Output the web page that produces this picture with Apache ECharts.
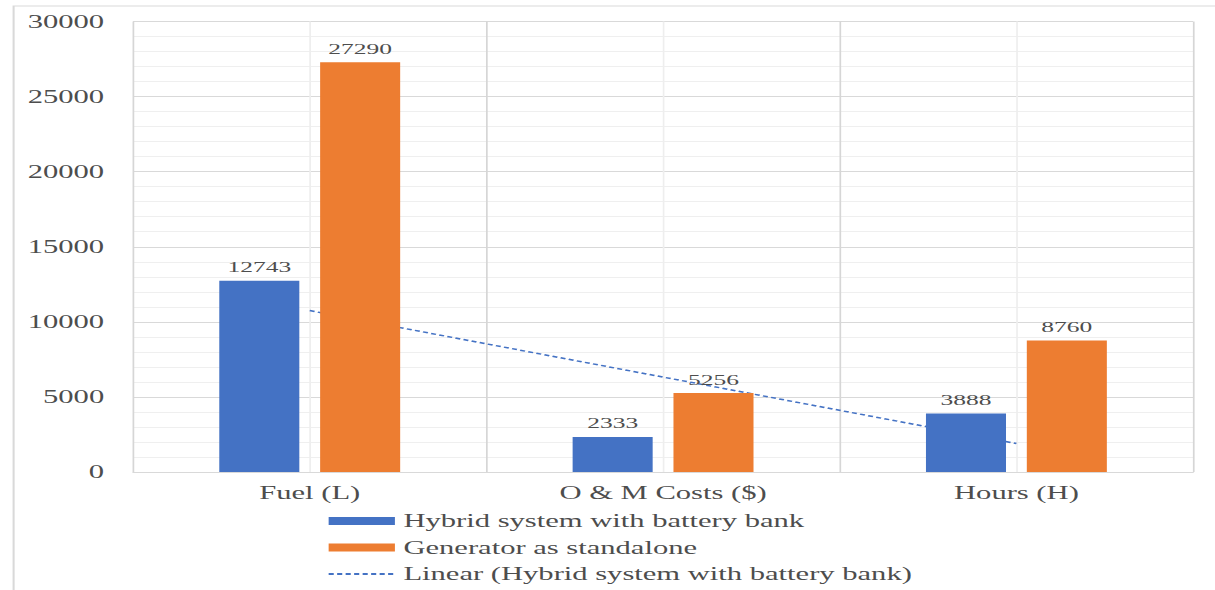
<!DOCTYPE html>
<html>
<head>
<meta charset="utf-8">
<title>Hybrid system vs standalone generator</title>
<script src="https://cdn.jsdelivr.net/npm/echarts@6/dist/echarts.min.js"></script>
<style>
  html, body { margin: 0; padding: 0; background: #ffffff; overflow: hidden; }
  /* The chart is laid out on a narrower canvas and widened horizontally,
     giving the broad serif lettering and wide columns of the figure. */
  #chart { width: 715px; height: 590px; transform-origin: 0 0; }
</style>
</head>
<body>
<div id="chart"></div>
<script>
// ---- data ----
const categories = ['Fuel (L)', 'O & M Costs ($)', 'Hours (H)'];
const hybridName = 'Hybrid system with battery bank';
const generatorName = 'Generator as standalone';
const trendName = 'Linear (Hybrid system with battery bank)';
const hybrid = [12743, 2333, 3888];
const generator = [27290, 5256, 8760];
const yMin = 0;
const yMax = 30000;
const yStep = 5000;

// Least-squares linear trendline over the category positions 1..n
function linearTrend(values) {
  const n = values.length;
  const xs = values.map((_, i) => i + 1);
  const mx = xs.reduce((a, b) => a + b, 0) / n;
  const my = values.reduce((a, b) => a + b, 0) / n;
  let num = 0, den = 0;
  for (let i = 0; i < n; i++) {
    num += (xs[i] - mx) * (values[i] - my);
    den += (xs[i] - mx) * (xs[i] - mx);
  }
  const slope = num / den;
  const icpt = my - slope * mx;
  return xs.map(x => +(icpt + slope * x).toFixed(1));
}
const hybridTrend = linearTrend(hybrid);

// ---- layout ----
const PAGE_W = 1215;
const BOX_W = 715;
const SX = PAGE_W / BOX_W;
const el = document.getElementById('chart');
el.style.transform = 'scaleX(' + SX + ')';

const FONT = "'Liberation Serif', 'Times New Roman', serif";
const TEXT = '#4d4d4d';
const BLUE = '#4472C4';
const ORANGE = '#ED7D31';

const chart = echarts.init(el, null, { renderer: 'svg', width: BOX_W, height: 590 });

chart.setOption({
  animation: false,
  backgroundColor: '#ffffff',
  textStyle: { fontFamily: FONT },
  graphic: [{
    type: 'rect',
    silent: true,
    z: -10,
    shape: { x: 8, y: 6, width: 900, height: 700 },
    style: { fill: 'none', stroke: '#d9d9d9', lineWidth: 1.2 }
  }],
  grid: { left: 78.3, right: 12.9, top: 21.5, bottom: 118, containLabel: false },
  legend: {
    orient: 'vertical',
    left: 192.4,
    top: 512,
    padding: 0,
    itemWidth: 39,
    itemHeight: 8,
    itemGap: 8.5,
    textStyle: { fontFamily: FONT, fontSize: 18, lineHeight: 18, color: TEXT },
    data: [
      { name: hybridName, icon: 'rect' },
      { name: generatorName, icon: 'rect' },
      { name: trendName, itemStyle: { opacity: 0 } }
    ]
  },
  xAxis: [{
    type: 'category',
    data: categories,
    boundaryGap: true,
    axisLine: { show: true, lineStyle: { color: '#d9d9d9', width: 1 } },
    axisTick: { show: false },
    splitLine: { show: false },
    axisLabel: { color: TEXT, fontFamily: FONT, fontSize: 18, margin: 12 }
  }, {
    // lattice of category boundaries and category centres
    type: 'value',
    min: 0,
    max: categories.length,
    interval: 0.5,
    position: 'bottom',
    axisLine: { show: false },
    axisTick: { show: false },
    axisLabel: { show: false },
    splitLine: { show: true, lineStyle: { color: ['#d6d6d6', '#eeeeee'], width: 1 } }
  }],
  yAxis: {
    type: 'value',
    min: yMin,
    max: yMax,
    interval: yStep,
    axisLine: { show: false },
    axisTick: { show: false },
    axisLabel: {
      color: TEXT, fontFamily: FONT, fontSize: 18, margin: 17,
      formatter: v => String(v)
    },
    splitLine: { show: true, lineStyle: { color: '#d9d9d9', width: 1 } },
    minorTick: { show: false, splitNumber: 5 },
    minorSplitLine: { show: true, lineStyle: { color: '#efefef', width: 1 } }
  },
  series: [{
    name: hybridName,
    type: 'bar',
    xAxisIndex: 0,
    data: hybrid,
    barWidth: 47.1,
    barGap: '26%',
    z: 3,
    itemStyle: { color: BLUE },
    label: { show: true, position: 'top', distance: 6, color: TEXT, fontFamily: FONT, fontSize: 15 }
  }, {
    name: generatorName,
    type: 'bar',
    xAxisIndex: 0,
    data: generator,
    barWidth: 47.1,
    barGap: '26%',
    z: 3,
    itemStyle: { color: ORANGE },
    label: { show: true, position: 'top', distance: 6, color: TEXT, fontFamily: FONT, fontSize: 15 }
  }, {
    name: trendName,
    type: 'line',
    xAxisIndex: 0,
    data: hybridTrend,
    symbol: 'none',
    z: 1,
    lineStyle: { color: BLUE, width: 1.5, type: [3, 2] },
    itemStyle: { color: BLUE }
  }]
});
</script>
</body>
</html>
